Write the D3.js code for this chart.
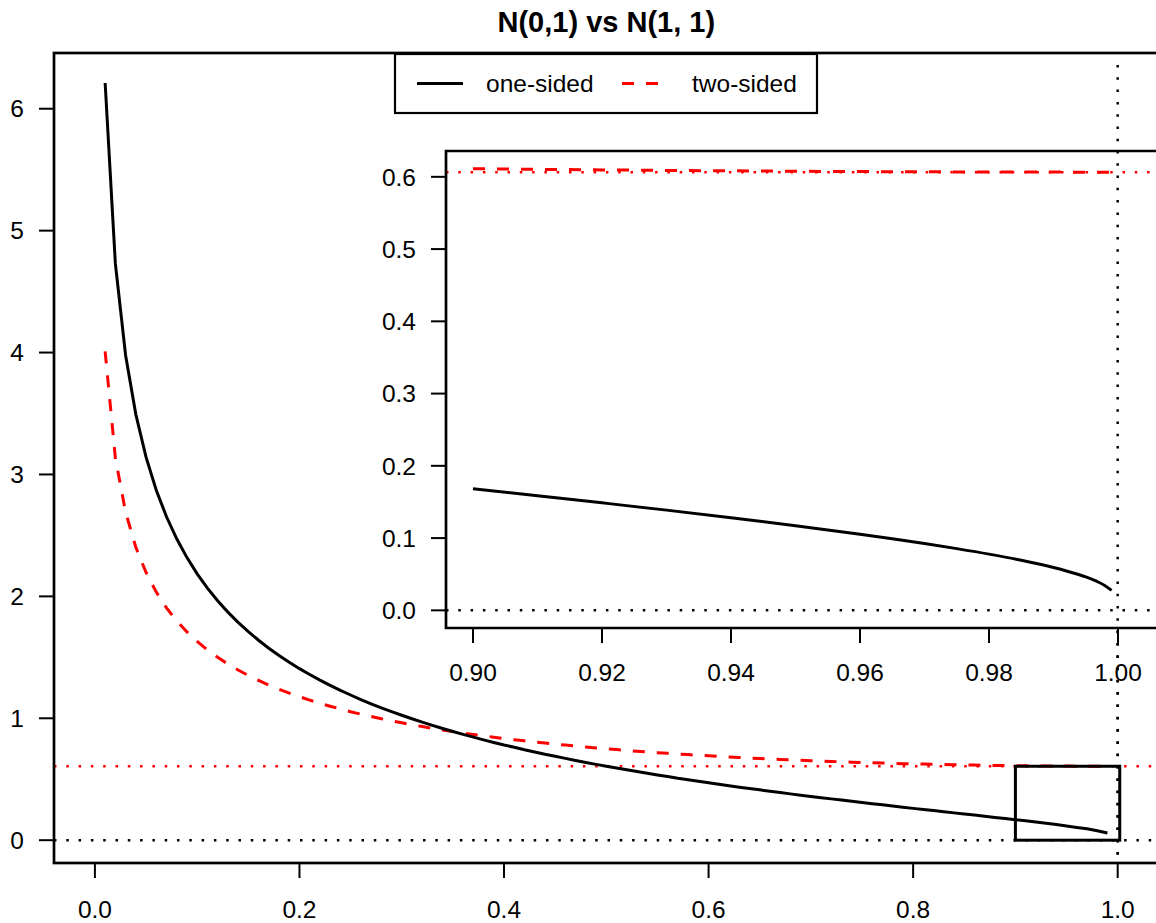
<!DOCTYPE html>
<html><head><meta charset="utf-8">
<script src="https://cdn.jsdelivr.net/npm/d3@7/dist/d3.min.js"></script>
<style>
body{margin:0;background:#fff}
svg{display:block}
text{font-family:"Liberation Sans",Arial,Helvetica,sans-serif;fill:#000}
</style>
</head><body>
<svg id="chart" width="1156" height="923"></svg>
<script>
// ---------------- data ----------------
const title = "N(0,1) vs N(1, 1)";
const legendLabels = ["one-sided", "two-sided"];

const pValues = [0.01,0.02,0.03,0.04,0.05,0.06,0.07,0.08,0.09,0.10,
  0.11,0.12,0.13,0.14,0.15,0.16,0.17,0.18,0.19,0.20,
  0.21,0.22,0.23,0.24,0.25,0.26,0.27,0.28,0.29,0.30,
  0.31,0.32,0.33,0.34,0.35,0.36,0.37,0.38,0.39,0.40,
  0.41,0.42,0.43,0.44,0.45,0.46,0.47,0.48,0.49,0.50,
  0.51,0.52,0.53,0.54,0.55,0.56,0.57,0.58,0.59,0.60,
  0.61,0.62,0.63,0.64,0.65,0.66,0.67,0.68,0.69,0.70,
  0.71,0.72,0.73,0.74,0.75,0.76,0.77,0.78,0.79,0.80,
  0.81,0.82,0.83,0.84,0.85,0.86,0.87,0.88,0.89,0.90,
  0.91,0.92,0.93,0.94,0.95,0.96,0.97,0.98,0.99];

const oneSided = [6.211,4.729,3.978,3.493,3.142,2.871,2.653,2.472,2.318,2.185,
  2.068,1.964,1.871,1.787,1.710,1.640,1.575,1.515,1.459,1.407,
  1.359,1.313,1.270,1.229,1.191,1.154,1.119,1.086,1.055,1.025,
  0.996,0.968,0.942,0.916,0.892,0.868,0.845,0.823,0.802,0.781,
  0.762,0.742,0.724,0.705,0.688,0.671,0.654,0.638,0.622,0.607,
  0.592,0.577,0.563,0.549,0.535,0.522,0.508,0.496,0.483,0.471,
  0.459,0.447,0.435,0.424,0.413,0.402,0.391,0.380,0.369,0.359,
  0.349,0.339,0.329,0.319,0.309,0.299,0.290,0.280,0.271,0.261,
  0.252,0.243,0.234,0.224,0.215,0.206,0.197,0.187,0.178,0.168,
  0.159,0.149,0.139,0.128,0.117,0.105,0.093,0.078,0.059];

const twoSided = [4.009,3.135,2.691,2.403,2.196,2.035,1.906,1.799,1.708,1.630,
  1.561,1.500,1.445,1.396,1.351,1.311,1.273,1.239,1.206,1.177,
  1.149,1.123,1.099,1.076,1.054,1.034,1.015,0.996,0.979,0.963,
  0.947,0.932,0.918,0.904,0.891,0.879,0.867,0.856,0.845,0.834,
  0.824,0.815,0.805,0.797,0.788,0.780,0.772,0.764,0.757,0.750,
  0.743,0.736,0.730,0.724,0.718,0.713,0.707,0.702,0.697,0.692,
  0.687,0.683,0.678,0.674,0.670,0.666,0.662,0.659,0.655,0.652,
  0.649,0.646,0.643,0.640,0.638,0.635,0.633,0.630,0.628,0.626,
  0.624,0.622,0.621,0.619,0.617,0.616,0.615,0.613,0.612,0.611,
  0.610,0.610,0.609,0.608,0.608,0.607,0.607,0.607,0.607];

const insetP   = [0.90,0.91,0.92,0.93,0.94,0.95,0.96,0.965,0.97,0.975,0.98,0.985,0.99,0.992,0.994,0.995,0.996,0.997,0.998,0.999];
const insetOne = [0.1684,0.1587,0.1488,0.1387,0.1281,0.1171,0.1053,0.0991,0.0925,0.0854,0.0778,0.0693,0.0592,0.0545,0.0492,0.0462,0.0428,0.0389,0.0341,0.0276];
const insetTwo = [0.6113,0.6104,0.6096,0.6089,0.6083,0.6077,0.6073,0.6071,0.6070,0.6068,0.6067,0.6066,0.6066,0.6065,0.6065,0.6065,0.6065,0.6065,0.6065,0.6065];

const mainXTicks = [0.0,0.2,0.4,0.6,0.8,1.0];
const mainXTickLabels = ["0.0","0.2","0.4","0.6","0.8","1.0"];
const mainYTicks = [0,1,2,3,4,5,6];
const mainYTickLabels = ["0","1","2","3","4","5","6"];
const insetXTicks = [0.90,0.92,0.94,0.96,0.98,1.00];
const insetXTickLabels = ["0.90","0.92","0.94","0.96","0.98","1.00"];
const insetYTicks = [0.0,0.1,0.2,0.3,0.4,0.5,0.6];
const insetYTickLabels = ["0.0","0.1","0.2","0.3","0.4","0.5","0.6"];

const refLevel = 0.6065;   // horizontal red dotted reference
const zeroLevel = 0;       // horizontal black dotted reference
const vLine = 1.0;         // vertical black dotted reference
const zoomX = [0.9, 1.002];  // zoom rectangle x range
const zoomY = [0, 0.6065]; // zoom rectangle y range

// ---------------- drawing ----------------
const svg = d3.select("#chart");
const FS = 24.5;
const pad4 = ([a, b]) => [a - 0.04 * (b - a), b + 0.04 * (b - a)];
const DOT = "2.5,9.8";
const DASH = "12,12";

// main scales
const mainBox = {left: 54, top: 53, bottom: 863, right: 1158.6};
const x = d3.scaleLinear().domain(pad4([0, 1])).range([mainBox.left, mainBox.right]);
const y = d3.scaleLinear().domain(pad4(d3.extent(oneSided))).range([mainBox.bottom, mainBox.top]);

svg.append("defs").append("clipPath").attr("id", "mainClip")
  .append("rect").attr("x", mainBox.left).attr("y", mainBox.top)
  .attr("width", mainBox.right - mainBox.left).attr("height", mainBox.bottom - mainBox.top);

const main = svg.append("g");
const plotM = main.append("g").attr("clip-path", "url(#mainClip)");

const line = (xs, ys, sx, sy, curve) => d3.line().curve(curve || d3.curveLinear)
  .x((d, i) => sx(xs[i])).y(d => sy(d))(ys);

// reference lines main
plotM.append("line").attr("x1", mainBox.left).attr("x2", mainBox.right)
  .attr("y1", y(zeroLevel)).attr("y2", y(zeroLevel))
  .attr("stroke", "#000").attr("stroke-width", 2.5).attr("stroke-dasharray", DOT);
plotM.append("line").attr("x1", mainBox.left).attr("x2", mainBox.right)
  .attr("y1", y(refLevel)).attr("y2", y(refLevel))
  .attr("stroke", "#ff0000").attr("stroke-width", 2.5).attr("stroke-dasharray", DOT);
plotM.append("line").attr("x1", x(vLine)).attr("x2", x(vLine))
  .attr("y1", mainBox.top + 12).attr("y2", mainBox.bottom)
  .attr("stroke", "#000").attr("stroke-width", 2.5).attr("stroke-dasharray", DOT);

// curves
plotM.append("path").attr("d", line(pValues, twoSided, x, y))
  .attr("fill", "none").attr("stroke", "#ff0000").attr("stroke-width", 3)
  .attr("stroke-dasharray", DASH);
plotM.append("path").attr("d", line(pValues, oneSided, x, y))
  .attr("fill", "none").attr("stroke", "#000").attr("stroke-width", 3);

// zoom rectangle
plotM.append("rect").attr("x", x(zoomX[0])).attr("y", y(zoomY[1]))
  .attr("width", x(zoomX[1]) - x(zoomX[0])).attr("height", y(zoomY[0]) - y(zoomY[1]))
  .attr("fill", "none").attr("stroke", "#000").attr("stroke-width", 3);

// main box
main.append("rect").attr("x", mainBox.left).attr("y", mainBox.top)
  .attr("width", mainBox.right - mainBox.left).attr("height", mainBox.bottom - mainBox.top)
  .attr("fill", "none").attr("stroke", "#000").attr("stroke-width", 2.7);

// main axes
const TICK = 15;
mainXTicks.forEach((t, i) => {
  main.append("line").attr("x1", x(t)).attr("x2", x(t))
    .attr("y1", mainBox.bottom).attr("y2", mainBox.bottom + TICK)
    .attr("stroke", "#000").attr("stroke-width", 2);
  main.append("text").attr("x", x(t)).attr("y", mainBox.bottom + TICK + 31 + 0.358 * FS)
    .attr("text-anchor", "middle").attr("font-size", FS).text(mainXTickLabels[i]);
});
mainYTicks.forEach((t, i) => {
  main.append("line").attr("x1", mainBox.left - TICK).attr("x2", mainBox.left)
    .attr("y1", y(t)).attr("y2", y(t))
    .attr("stroke", "#000").attr("stroke-width", 2);
  main.append("text").attr("x", mainBox.left - TICK - 15).attr("y", y(t) + 0.358 * FS)
    .attr("text-anchor", "end").attr("font-size", FS).text(mainYTickLabels[i]);
});

// ---------------- inset ----------------
const inBox = {left: 446, top: 151, bottom: 628};
const ix = d3.scaleLinear().domain(pad4([0.9, 1.0])).range([447.2, 1143.8]);
const iy = d3.scaleLinear().domain(pad4([0, d3.max(insetTwo)])).range([inBox.bottom, inBox.top]);
const inset = svg.append("g");
inset.append("rect").attr("x", inBox.left).attr("y", inBox.top)
  .attr("width", 800).attr("height", inBox.bottom - inBox.top)
  .attr("fill", "#fff").attr("stroke", "none");

inset.append("line").attr("x1", inBox.left).attr("x2", 1156)
  .attr("y1", iy(zeroLevel)).attr("y2", iy(zeroLevel))
  .attr("stroke", "#000").attr("stroke-width", 2.5).attr("stroke-dasharray", DOT);
inset.append("line").attr("x1", inBox.left).attr("x2", 1156)
  .attr("y1", iy(refLevel)).attr("y2", iy(refLevel))
  .attr("stroke", "#ff0000").attr("stroke-width", 2.5).attr("stroke-dasharray", DOT);
inset.append("path").attr("d", line(insetP, insetTwo, ix, iy, d3.curveMonotoneX))
  .attr("fill", "none").attr("stroke", "#ff0000").attr("stroke-width", 3)
  .attr("stroke-dasharray", DASH);
inset.append("path").attr("d", line(insetP, insetOne, ix, iy, d3.curveMonotoneX))
  .attr("fill", "none").attr("stroke", "#000").attr("stroke-width", 3);

// inset border (right edge lies outside the picture)
inset.append("path")
  .attr("d", `M1170,${inBox.top}H${inBox.left}V${inBox.bottom}H1170`)
  .attr("fill", "none").attr("stroke", "#000").attr("stroke-width", 2.7);

insetXTicks.forEach((t, i) => {
  inset.append("line").attr("x1", ix(t)).attr("x2", ix(t))
    .attr("y1", inBox.bottom).attr("y2", inBox.bottom + TICK)
    .attr("stroke", "#000").attr("stroke-width", 2);
  inset.append("text").attr("x", ix(t)).attr("y", inBox.bottom + TICK + 29 + 0.358 * FS)
    .attr("text-anchor", "middle").attr("font-size", FS).text(insetXTickLabels[i]);
});
insetYTicks.forEach((t, i) => {
  inset.append("line").attr("x1", inBox.left - TICK).attr("x2", inBox.left)
    .attr("y1", iy(t)).attr("y2", iy(t))
    .attr("stroke", "#000").attr("stroke-width", 2);
  inset.append("text").attr("x", inBox.left - TICK - 15).attr("y", iy(t) + 0.358 * FS)
    .attr("text-anchor", "end").attr("font-size", FS).text(insetYTickLabels[i]);
});

// vertical dotted line through the whole main plot (drawn last so it crosses the inset)
svg.append("line").attr("x1", x(vLine)).attr("x2", x(vLine))
  .attr("y1", inBox.top).attr("y2", mainBox.bottom)
  .attr("stroke", "#000").attr("stroke-width", 2.5).attr("stroke-dasharray", DOT)
  .attr("stroke-dashoffset", -((inBox.top - mainBox.top - 12) % 12.3));

// ---------------- legend ----------------
const leg = svg.append("g");
const legBox = {left: 395, top: 54, right: 817, bottom: 113};
leg.append("rect").attr("x", legBox.left).attr("y", legBox.top)
  .attr("width", legBox.right - legBox.left).attr("height", legBox.bottom - legBox.top)
  .attr("fill", "#fff").attr("stroke", "#000").attr("stroke-width", 2.2);
const legY = (legBox.top + legBox.bottom) / 2;
const legItems = [
  {label: legendLabels[0], color: "#000", dash: null, x0: 417, tx: 486},
  {label: legendLabels[1], color: "#ff0000", dash: DASH, x0: 622, tx: 692}
];
legItems.forEach(it => {
  const l = leg.append("line").attr("x1", it.x0).attr("x2", it.x0 + 46)
    .attr("y1", legY).attr("y2", legY)
    .attr("stroke", it.color).attr("stroke-width", 3);
  if (it.dash) l.attr("stroke-dasharray", it.dash);
  leg.append("text").attr("x", it.tx).attr("y", legY + 0.358 * FS)
    .attr("font-size", FS).text(it.label);
});

// ---------------- title ----------------
svg.append("text").attr("x", (mainBox.left + mainBox.right) / 2).attr("y", 32)
  .attr("text-anchor", "middle").attr("font-size", 29).attr("font-weight", "bold")
  .text(title);
</script>
</body></html>
